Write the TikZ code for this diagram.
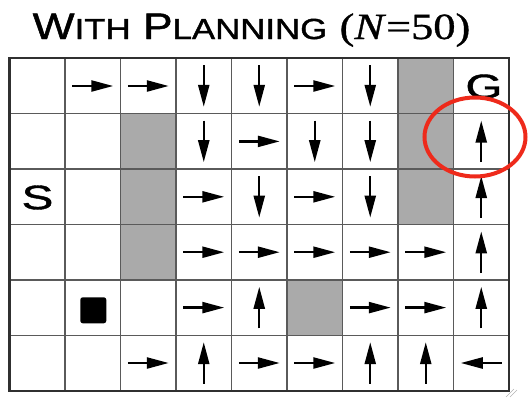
\documentclass[tikz,border=0pt]{standalone}
\usepackage{fontspec}
\usepackage{graphicx}
\setmainfont{Liberation Sans}[FakeBold=1.2]
\newfontfamily\serifx{Liberation Serif}[FakeBold=0.8]
\usetikzlibrary{arrows.meta}
\definecolor{wall}{HTML}{AAAAAA}
\definecolor{gridc}{HTML}{5A5A5A}
\definecolor{borderc}{HTML}{303030}
\definecolor{ringred}{HTML}{EE2A1B}
\begin{document}
\begin{tikzpicture}[x=1pt,y=-1pt,
  arr/.style={line width=2.4pt,-{Triangle[length=22pt,width=11pt]}},
  gridline/.style={draw=gridc,line width=1.5pt},
  border/.style={draw=borderc,line width=2.2pt},
  wallcell/.style={fill=wall},
  letter/.style={inner sep=0pt,font=\fontsize{34}{34}\selectfont}]
\useasboundingbox (0,0) rectangle (528,397);
% walls
\foreach \c/\r in {3/2,3/3,3/4,8/1,8/2,8/3,6/5}
  \fill[wallcell] ({9.5+55.5*(\c-1)},{58.3+55.4*(\r-1)}) rectangle ++(55.5,55.4);
% grid
\foreach \i in {1,...,8}
  \draw[gridline] ({9.5+55.5*\i},58.3) -- ({9.5+55.5*\i},390.7);
\foreach \j in {1,...,5}
  \draw[gridline] (9.5,{58.3+55.4*\j}) -- (509,{58.3+55.4*\j});
\draw[border] (9.5,58.3) rectangle (509,390.7);
% arrows right
\foreach \c/\r in {2/1,3/1,6/1,5/2,4/3,6/3,4/4,5/4,6/4,7/4,8/4,4/5,7/5,8/5,3/6,5/6,6/6}
  \draw[arr] ({9.5+55.5*(\c-0.5)-20.5},{58.3+55.4*(\r-0.5)}) -- ++(41,0);
% arrows left
\foreach \c/\r in {9/6}
  \draw[arr] ({9.5+55.5*(\c-0.5)+20.5},{58.3+55.4*(\r-0.5)}) -- ++(-41,0);
% arrows down
\foreach \c/\r in {4/1,5/1,7/1,4/2,6/2,7/2,5/3,7/3}
  \draw[arr] ({9.5+55.5*(\c-0.5)},{58.3+55.4*(\r-0.5)-20.8}) -- ++(0,41.6);
% arrows up
\foreach \c/\r in {9/2,9/3,9/4,9/5,5/5,4/6,7/6,8/6}
  \draw[arr] ({9.5+55.5*(\c-0.5)},{58.3+55.4*(\r-0.5)+20.8}) -- ++(0,-41.6);
% start, goal, agent
\node[letter] (start) at (37.5,197.5) {\scalebox{1.4}[1]{S}};
\node[letter] (goal) at (484,86.5) {\scalebox{1.4}[1]{G}};
\fill[rounded corners=2.5pt] (80.3,297.3) rectangle (106.3,323.3);
% title
\node[anchor=base,inner sep=0pt] (title) at (251.5,39) {\scalebox{1.2}[1]{\fontsize{37}{37}\selectfont W\fontsize{29}{29}\selectfont ITH\fontsize{37}{37}\selectfont\ P\fontsize{29}{29}\selectfont LANNING\fontsize{37}{37}\selectfont\ \serifx(\textit{N}=50)}};
% highlight ring
\draw[ringred,line width=4pt] (475,137) ellipse [x radius=50.5,y radius=39.5];
% resize grip
\draw[gray!60,line width=0.6pt] (506,397) -- (514,389) (510,397) -- (517,390);
\end{tikzpicture}
\end{document}
